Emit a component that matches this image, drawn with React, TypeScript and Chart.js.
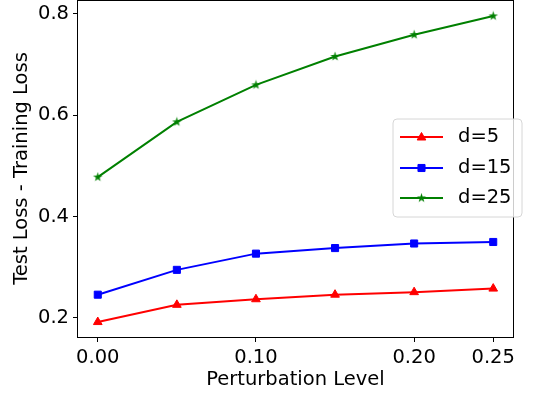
import React, { useEffect, useRef } from "react";
import { Chart, registerables } from "chart.js";

Chart.register(...registerables);

const perturbation = [0.0, 0.05, 0.1, 0.15, 0.2, 0.25];
const d5 = [0.192, 0.226, 0.237, 0.246, 0.251, 0.258];
const d15 = [0.246, 0.295, 0.327, 0.338, 0.347, 0.35];
const d25 = [0.478, 0.587, 0.66, 0.716, 0.759, 0.796];
const seriesLabels = ["d=5", "d=15", "d=25"];
const xTickValues = [0.0, 0.1, 0.2, 0.25];
const yTickValues = [0.2, 0.4, 0.6, 0.8];

const FONT = "DejaVu Sans";
const FS = 19.5;

function makeStar(color: string): HTMLCanvasElement {
  const c = document.createElement("canvas");
  c.width = 11;
  c.height = 11;
  const ctx = c.getContext("2d")!;
  const cx = 5.5, cy = 5.5, ro = 5, ri = 5 * 0.381966;
  ctx.beginPath();
  for (let i = 0; i < 10; i++) {
    const r = i % 2 === 0 ? ro : ri;
    const a = -Math.PI / 2 + (i * Math.PI) / 5;
    const px = cx + r * Math.cos(a);
    const py = cy + r * Math.sin(a);
    if (i === 0) ctx.moveTo(px, py);
    else ctx.lineTo(px, py);
  }
  ctx.closePath();
  ctx.fillStyle = color;
  ctx.fill();
  return c;
}

export default function App() {
  const ref = useRef<HTMLCanvasElement | null>(null);

  useEffect(() => {
    if (!ref.current) return;
    const star = makeStar("#008000");
    const toPts = (ys: number[]) => perturbation.map((x, i) => ({ x, y: ys[i] }));

    const frameAndLegend = {
      id: "frameAndLegend",
      afterDraw(chart: any) {
        const { ctx, chartArea } = chart;
        ctx.save();
        ctx.strokeStyle = "#000";
        ctx.lineWidth = 1;
        const l = Math.round(chartArea.left) - 0.5;
        const t = Math.round(chartArea.top) + 0.5;
        const r = Math.round(chartArea.right) + 0.5;
        const b = Math.round(chartArea.bottom) + 0.5;
        ctx.strokeRect(l, t, r - l, b - t);

        // legend
        const bx = 393, by = 119, bw = 129, bh = 98, rad = 4;
        ctx.beginPath();
        ctx.moveTo(bx + rad, by);
        ctx.arcTo(bx + bw, by, bx + bw, by + bh, rad);
        ctx.arcTo(bx + bw, by + bh, bx, by + bh, rad);
        ctx.arcTo(bx, by + bh, bx, by, rad);
        ctx.arcTo(bx, by, bx + bw, by, rad);
        ctx.closePath();
        ctx.fillStyle = "rgba(255,255,255,0.8)";
        ctx.fill();
        ctx.strokeStyle = "#d6d6d6";
        ctx.stroke();

        const rows = [137, 168, 198];
        chart.data.datasets.forEach((ds: any, i: number) => {
          const y = rows[i];
          ctx.strokeStyle = ds.borderColor;
          ctx.lineWidth = 2;
          ctx.beginPath();
          ctx.moveTo(400, y);
          ctx.lineTo(443, y);
          ctx.stroke();
          const style = ds.pointStyle;
          if (typeof style === "string") {
            ctx.fillStyle = ds.pointBackgroundColor;
            ctx.strokeStyle = ds.pointBorderColor;
            ctx.lineWidth = 1;
            ctx.beginPath();
            if (style === "triangle") {
              const rr = ds.pointRadius;
              for (let k = 0; k < 3; k++) {
                const a = -Math.PI / 2 + (k * 2 * Math.PI) / 3;
                const px = 421.5 + rr * Math.cos(a);
                const py = y + rr * Math.sin(a) + 0.5;
                if (k === 0) ctx.moveTo(px, py);
                else ctx.lineTo(px, py);
              }
              ctx.closePath();
            } else {
              const s = ds.pointRadius * Math.SQRT1_2;
              ctx.rect(421.5 - s, y - s, 2 * s, 2 * s);
            }
            ctx.fill();
            ctx.stroke();
          } else {
            ctx.drawImage(style, 421.5 - style.width / 2, y - style.height / 2);
          }
          ctx.fillStyle = "#000";
          ctx.font = `${FS}px '${FONT}'`;
          ctx.textBaseline = "middle";
          ctx.textAlign = "left";
          ctx.fillText(ds.label, 458, y);
        });
        ctx.restore();
      },
    };

    const chart = new Chart(ref.current, {
      type: "line",
      data: {
        datasets: [
          {
            label: seriesLabels[0],
            data: toPts(d5),
            borderColor: "#ff0000",
            backgroundColor: "#ff0000",
            pointBackgroundColor: "#ff0000",
            pointBorderColor: "#ff0000",
            pointStyle: "triangle",
            pointRadius: 5,
            pointBorderWidth: 1,
            borderWidth: 2,
          },
          {
            label: seriesLabels[1],
            data: toPts(d15),
            borderColor: "#0000ff",
            backgroundColor: "#0000ff",
            pointBackgroundColor: "#0000ff",
            pointBorderColor: "#0000ff",
            pointStyle: "rect",
            pointRadius: 5,
            pointBorderWidth: 1,
            borderWidth: 2,
          },
          {
            label: seriesLabels[2],
            data: toPts(d25),
            borderColor: "#008000",
            backgroundColor: "#008000",
            pointBackgroundColor: "#008000",
            pointBorderColor: "#008000",
            pointStyle: star as any,
            pointRadius: 5,
            borderWidth: 2,
          },
        ],
      },
      options: {
        animation: false,
        responsive: true,
        maintainAspectRatio: false,
        layout: { autoPadding: false, padding: { top: 0, right: 28, left: 0, bottom: 0 } },
        plugins: { legend: { display: false }, tooltip: { enabled: false } },
        scales: {
          x: {
            type: "linear",
            min: -0.0125,
            max: 0.2625,
            afterBuildTicks: (s: any) => {
              s.ticks = xTickValues.map((v) => ({ value: v }));
            },
            afterFit: (s: any) => {
              s.height = 60;
              s.paddingLeft = 0;
              s.paddingRight = 0;
            },
            ticks: {
              color: "#000",
              font: { family: FONT, size: FS },
              padding: 4,
              maxRotation: 0,
              autoSkip: false,
              callback: (v: any) => Number(v).toFixed(2),
            },
            grid: { display: true, drawOnChartArea: false, drawTicks: true, tickLength: 5, color: "#000" },
            border: { display: false },
            title: {
              display: true,
              text: "Perturbation Level",
              color: "#000",
              font: { family: FONT, size: FS },
              padding: { top: 0, bottom: 5 },
            },
          },
          y: {
            min: 0.1625,
            max: 0.8275,
            afterBuildTicks: (s: any) => {
              s.ticks = yTickValues.map((v) => ({ value: v }));
            },
            afterFit: (s: any) => {
              s.width = 78;
              s.paddingTop = 0;
              s.paddingBottom = 0;
            },
            ticks: {
              color: "#000",
              font: { family: FONT, size: FS },
              padding: 4,
              autoSkip: false,
              callback: (v: any) => Number(v).toFixed(1),
            },
            grid: { display: true, drawOnChartArea: false, drawTicks: true, tickLength: 5, color: "#000" },
            border: { display: false },
            title: {
              display: true,
              text: "Test Loss - Training Loss",
              color: "#000",
              font: { family: FONT, size: FS },
              padding: { top: 10, bottom: 0 },
            },
          },
        },
      },
      plugins: [frameAndLegend],
    });
    return () => chart.destroy();
  }, []);

  return (
    <div style={{ position: "absolute", left: 0, top: 0, width: 541, height: 397, background: "#fff" }}>
      <canvas ref={ref} />
    </div>
  );
}
